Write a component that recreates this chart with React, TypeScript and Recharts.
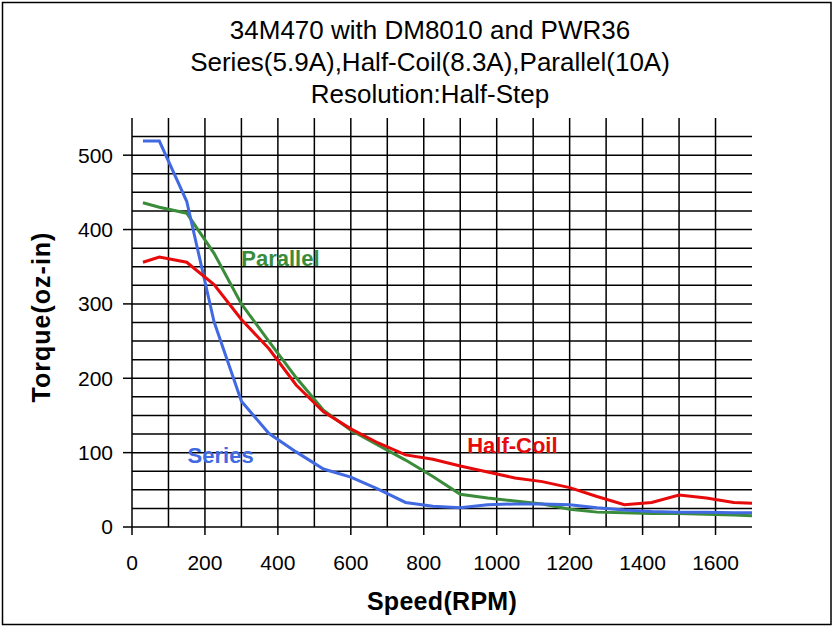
import React from "react";
import { LineChart, Line, XAxis, YAxis, CartesianGrid, ReferenceDot } from "recharts";

const speeds = [30, 75, 150, 225, 300, 375, 450, 525, 600, 675, 750, 825, 900, 975, 1050, 1125, 1200, 1275, 1350, 1425, 1500, 1575, 1650, 1700];
const seriesTorque = [519, 519, 438, 276, 169, 126, 101, 78, 67, 51, 33, 28, 26, 30, 31, 31, 30, 26, 23, 21, 20, 20, 19, 19];
const halfCoilTorque = [356, 363, 356, 326, 279, 240, 191, 155, 132, 113, 97, 91, 82, 74, 66, 61, 53, 41, 30, 33, 43, 39, 33, 32];
const parallelTorque = [436, 430, 422, 368, 300, 250, 201, 157, 130, 110, 90, 68, 44, 39, 35, 31, 24, 20, 19, 18, 18, 17, 16, 15];

const xTicks = [0, 200, 400, 600, 800, 1000, 1200, 1400, 1600];
const yTicks = [0, 100, 200, 300, 400, 500];
const xGrid = [100, 200, 300, 400, 500, 600, 700, 800, 900, 1000, 1100, 1200, 1300, 1400, 1500, 1600];
const yGrid = [25, 50, 75, 100, 125, 150, 175, 200, 225, 250, 275, 300, 325, 350, 375, 400, 425, 450, 475, 500, 525];

const titleLines = ["34M470 with DM8010 and PWR36", "Series(5.9A),Half-Coil(8.3A),Parallel(10A)", "Resolution:Half-Step"];

const data = speeds.map((s, i) => ({
  speed: s,
  series: seriesTorque[i],
  halfCoil: halfCoilTorque[i],
  parallel: parallelTorque[i],
}));

const BLUE = "#4169E1";
const RED = "#E60A0A";
const GREEN = "#3A8C3A";
const FONT = 'Arial, "Liberation Sans", sans-serif';

export default function App() {
  return (
    <div style={{ position: "absolute", left: 0, top: 0, width: 836, height: 631, background: "#fff", fontFamily: FONT }}>
      <LineChart width={836} height={631} data={data} margin={{ top: 118, right: 84, bottom: 0, left: 0 }}>
        <CartesianGrid horizontalValues={yGrid} verticalValues={xGrid} stroke="#000" strokeWidth={1.5} />
        <XAxis
          type="number"
          dataKey="speed"
          domain={[0, 1700]}
          ticks={xTicks}
          height={104}
          tickSize={8}
          tickMargin={20}
          interval={0}
          axisLine={{ stroke: "#000", strokeWidth: 1.5 }}
          tickLine={{ stroke: "#000", strokeWidth: 1.5 }}
          tick={{ fill: "#000", fontSize: 21, fontFamily: FONT }}
        />
        <YAxis
          type="number"
          domain={[0, 550]}
          ticks={yTicks}
          width={132}
          tickSize={9}
          tickMargin={10}
          interval={0}
          axisLine={{ stroke: "#000", strokeWidth: 1.5 }}
          tickLine={{ stroke: "#000", strokeWidth: 1.5 }}
          tick={{ fill: "#000", fontSize: 21, fontFamily: FONT }}
        />
        <Line type="linear" dataKey="parallel" stroke={GREEN} strokeWidth={3} dot={false} isAnimationActive={false} />
        <Line type="linear" dataKey="series" stroke={BLUE} strokeWidth={3} dot={false} isAnimationActive={false} />
        <Line type="linear" dataKey="halfCoil" stroke={RED} strokeWidth={3} dot={false} isAnimationActive={false} />
        <ReferenceDot x={407} y={362} r={0} stroke="none" fill="none"
          label={{ value: "Parallel", position: "center", fill: GREEN, fontSize: 22, fontWeight: "bold", fontFamily: FONT }} />
        <ReferenceDot x={243} y={97} r={0} stroke="none" fill="none"
          label={{ value: "Series", position: "center", fill: BLUE, fontSize: 22, fontWeight: "bold", fontFamily: FONT }} />
        <ReferenceDot x={1043} y={110} r={0} stroke="none" fill="none"
          label={{ value: "Half-Coil", position: "center", fill: RED, fontSize: 22, fontWeight: "bold", fontFamily: FONT }} />
      </LineChart>
      <svg width={836} height={631} style={{ position: "absolute", left: 0, top: 0, pointerEvents: "none" }}>
        <rect x={2.5} y={2.5} width={828.5} height={622} fill="none" stroke="#000" strokeWidth={1.5} />
        {titleLines.map((t, i) => (
          <text key={i} x={430} y={39 + i * 32} textAnchor="middle" fontSize={26} fontFamily={FONT} fill="#000">
            {t}
          </text>
        ))}
        <text x={442} y={610} textAnchor="middle" fontSize={25} fontWeight="bold" fontFamily={FONT} fill="#000" letterSpacing={0.3}>
          Speed(RPM)
        </text>
        <text x={50} y={317} textAnchor="middle" fontSize={25} fontWeight="bold" fontFamily={FONT} fill="#000" letterSpacing={1}
          transform="rotate(-90 50 317)">
          Torque(oz-in)
        </text>
      </svg>
    </div>
  );
}
